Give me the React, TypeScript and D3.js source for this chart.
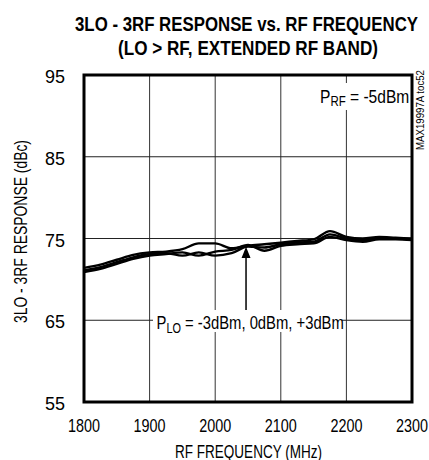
import React from "react";
import * as d3 from "d3";

const freqs = [1800, 1825, 1850, 1875, 1900, 1925, 1950, 1975, 2000, 2025, 2050, 2075, 2100, 2125, 2150, 2175, 2200, 2225, 2250, 2275, 2300];
const seriesM3 = [71.4, 71.8, 72.4, 73.0, 73.3, 73.4, 73.7, 74.4, 74.4, 73.8, 74.1, 74.3, 74.5, 74.7, 74.9, 75.9, 75.2, 75.0, 75.2, 75.1, 75.0];
const series0 = [70.9, 71.3, 71.9, 72.5, 72.9, 73.1, 73.3, 72.9, 73.4, 73.6, 74.2, 73.5, 74.1, 74.3, 74.4, 75.2, 74.8, 74.6, 74.9, 74.9, 74.8];
const seriesP3 = [71.1, 71.5, 72.1, 72.7, 73.1, 73.2, 72.9, 73.3, 72.9, 73.2, 74.0, 73.9, 74.3, 74.5, 74.6, 75.5, 75.0, 74.8, 75.0, 75.0, 74.9];
const xTicks = [1800, 1900, 2000, 2100, 2200, 2300];
const yTicks = [55, 65, 75, 85, 95];
const arrowFreq = 2047;

const FONT = "'Liberation Sans', Arial, sans-serif";

export default function App() {
  const W = 429, H = 460;
  const L = 84, R = 412, T = 75, B = 402;
  const x = d3.scaleLinear().domain([1800, 2300]).range([L, R]);
  const y = d3.scaleLinear().domain([55, 95]).range([B, T]);
  const line = d3.line<number>().x((_, i) => x(freqs[i])).y((d) => y(d)).curve(d3.curveMonotoneX);
  const all = [seriesM3, series0, seriesP3];
  const ax = x(arrowFreq);
  return (
    <svg width={W} height={H} style={{ position: "absolute", left: 0, top: 0 }} fontFamily={FONT}>
      <rect width={W} height={H} fill="#fff" />
      <text x={75} y={31} fontSize={21} fontWeight="bold" textLength={343} lengthAdjust="spacingAndGlyphs">3LO - 3RF RESPONSE vs. RF FREQUENCY</text>
      <text x={118} y={55} fontSize={21} fontWeight="bold" textLength={260} lengthAdjust="spacingAndGlyphs">(LO &gt; RF, EXTENDED RF BAND)</text>
      {xTicks.slice(1, -1).map((t) => (
        <line key={"vx" + t} x1={x(t)} x2={x(t)} y1={T} y2={B} stroke="#333" strokeWidth={1} />
      ))}
      {yTicks.slice(1, -1).map((t) => (
        <line key={"hy" + t} x1={L} x2={R} y1={y(t)} y2={y(t)} stroke="#222" strokeWidth={1} />
      ))}
      {all.map((s, i) => (
        <path key={i} d={line(s) || ""} fill="none" stroke="#000" strokeWidth={2.4} />
      ))}
      <line x1={ax} x2={ax} y1={y(73.3)} y2={y(65.2)} stroke="#000" strokeWidth={1.5} />
      <path d={`M${ax},${y(74.0)} L${ax - 4.5},${y(72.6)} L${ax + 4.5},${y(72.6)} Z`} fill="#000" />
      <rect x={153} y={310} width={189} height={22} fill="#fff" />
      <g transform="translate(156.5,329) scale(0.78,1)">
        <text x={0} y={0} fontSize={19}>
          P<tspan fontSize={14} dy={4}>LO</tspan><tspan dy={-4}> = -3dBm, 0dBm, +3dBm</tspan>
        </text>
      </g>
      <rect x={318} y={83} width={90} height={27} fill="#fff" />
      <g transform="translate(320,103) scale(0.82,1)">
        <text x={0} y={0} fontSize={19}>
          P<tspan fontSize={14} dy={3}>RF</tspan><tspan dy={-3}> = -5dBm</tspan>
        </text>
      </g>
      <rect x={L} y={T} width={R - L} height={B - T} fill="none" stroke="#000" strokeWidth={3} />
      {yTicks.map((t) => (
        <text key={"yl" + t} x={65} y={y(t) + 8} textAnchor="end" fontSize={18} textLength={20} lengthAdjust="spacingAndGlyphs">{t}</text>
      ))}
      {xTicks.map((t) => (
        <text key={"xl" + t} x={x(t) - 16} y={432} fontSize={19} textLength={32} lengthAdjust="spacingAndGlyphs">{t}</text>
      ))}
      <text x={175} y={458} fontSize={18} textLength={147} lengthAdjust="spacingAndGlyphs">RF FREQUENCY (MHz)</text>
      <text transform={`translate(27,${323}) rotate(-90)`} fontSize={18} textLength={183} lengthAdjust="spacingAndGlyphs">3LO - 3RF RESPONSE (dBc)</text>
      <text transform={`translate(424,${150}) rotate(-90)`} fontSize={10} textLength={80} lengthAdjust="spacingAndGlyphs">MAX19997A toc52</text>
    </svg>
  );
}
